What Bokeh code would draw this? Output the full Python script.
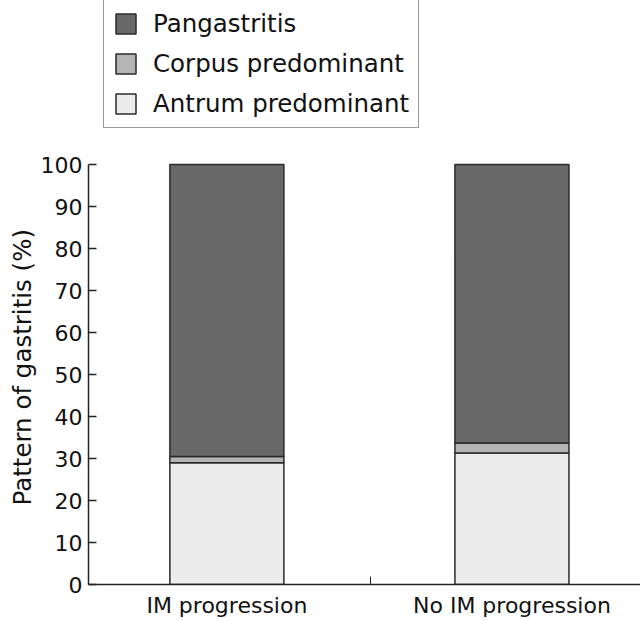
from bokeh.plotting import figure
from bokeh.models import ColumnDataSource, FixedTicker, Range1d, Legend, LegendItem, Title
from bokeh.embed import file_html
from bokeh.resources import INLINE

groups = ["IM progression", "No IM progression"]
patterns = ["Antrum predominant", "Corpus predominant", "Pangastritis"]
antrum = [29.0, 31.3]
corpus = [1.5, 2.4]
pangastritis = [69.5, 66.3]
colors = ["#ececec", "#b4b4b4", "#686868"]
y_ticks = list(range(0, 101, 10))
y_title = "Pattern of gastritis (%)"

FONT = "DejaVu Sans"

xpos = [i + 0.496 for i in range(len(groups))]
src = ColumnDataSource(dict(x=xpos, antrum=antrum, corpus=corpus, pang=pangastritis))

p = figure(width=640, height=621, output_backend="svg", toolbar_location=None,
           x_range=Range1d(0.0105, 1.947), y_range=Range1d(0, 139.05),
           min_border_left=88, min_border_right=0, min_border_top=0, min_border_bottom=37)

renderers = p.vbar_stack(["antrum", "corpus", "pang"], x="x", width=0.40, source=src,
                         fill_color=colors, line_color="#2a2a2a", line_width=1.5)

p.outline_line_color = None
p.xgrid.visible = False
p.ygrid.visible = False

# x axis
p.xaxis.ticker = FixedTicker(ticks=xpos, minor_ticks=[1.0])
p.xaxis.major_label_overrides = {x: g for x, g in zip(xpos, groups)}
p.xaxis.major_tick_in = 0
p.xaxis.major_tick_out = 0
p.xaxis.minor_tick_in = 8
p.xaxis.minor_tick_out = 0
p.xaxis.minor_tick_line_color = "#222222"
p.xaxis.axis_line_color = "#222222"
p.xaxis.axis_line_width = 1.5
p.xaxis.major_label_text_font = FONT
p.xaxis.major_label_text_font_size = "22px"
p.xaxis.major_label_text_color = "#111111"
p.xaxis.major_label_standoff = 8

# y axis
p.yaxis.ticker = FixedTicker(ticks=y_ticks)
p.yaxis.bounds = (0, 100)
p.yaxis.major_tick_in = 8
p.yaxis.major_tick_out = 0
p.yaxis.minor_tick_line_color = None
p.yaxis.axis_line_color = "#222222"
p.yaxis.axis_line_width = 1.5
p.yaxis.major_tick_line_color = "#222222"
p.yaxis.major_tick_line_width = 1.5
p.yaxis.major_label_text_font = FONT
p.yaxis.major_label_text_font_size = "22px"
p.yaxis.major_label_text_color = "#111111"
p.yaxis.major_label_standoff = 6

ytitle = Title(text=y_title, align="left", offset=79,
               text_font=FONT, text_font_style="normal", text_font_size="24.5px",
               text_color="#111111", standoff=2)
p.add_layout(ytitle, "left")

items = [LegendItem(label=patterns[i], renderers=[renderers[i]]) for i in [2, 1, 0]]
legend = Legend(items=items, location=(15, 456),
                glyph_width=25, glyph_height=25, label_standoff=15,
                spacing=11, padding=9, margin=0, label_height=25,
                label_text_font=FONT, label_text_font_size="24.5px", label_text_color="#111111",
                border_line_color="#333333", border_line_width=1.5,
                background_fill_color="white", background_fill_alpha=1.0)
p.add_layout(legend, "center")

open("out.html", "w").write(file_html(p, INLINE))
